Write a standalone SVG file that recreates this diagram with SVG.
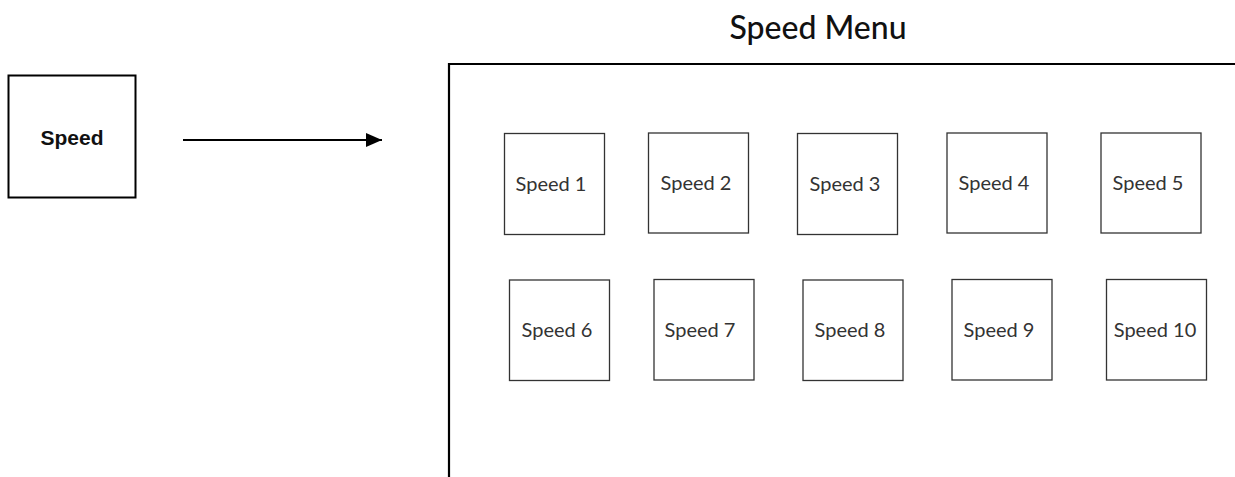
<svg xmlns="http://www.w3.org/2000/svg" width="1235" height="477" viewBox="0 0 1235 477">
<style>
.sb{fill:#fff;stroke:#333;stroke-width:1.3}
.st{font-family:Lato,"Noto Sans",sans-serif;font-size:20px;fill:#333;text-anchor:middle;dominant-baseline:central}
</style>
<defs>
<marker id="ah" markerWidth="16" markerHeight="14" refX="16" refY="7" orient="auto" markerUnits="userSpaceOnUse">
<path d="M0,0 L16,7 L0,14 Z" fill="#000"/>
</marker>
</defs>
<rect width="1235" height="477" fill="#fff"/>
<g id="speed">
<rect x="8.5" y="75.5" width="127" height="122" fill="#fff" stroke="#000" stroke-width="2"/>
<text x="72" y="137" font-family="'Liberation Sans',Arial,sans-serif" font-size="21" font-weight="bold" fill="#111" text-anchor="middle" dominant-baseline="central">Speed</text>
</g>
<g id="connectors">
<line x1="183" y1="140" x2="382" y2="140" stroke="#000" stroke-width="2" marker-end="url(#ah)"/>
</g>
<g id="speed-menu">
<text x="818" y="26" font-family="Lato,'Noto Sans',sans-serif" font-size="32" font-weight="500" fill="#111" text-anchor="middle" dominant-baseline="central">Speed Menu</text>
<path d="M449,477 V64 H1235" fill="none" stroke="#000" stroke-width="2.2"/>
</g>
<g id="speed1"><rect class="sb" x="504.5" y="133.5" width="100" height="101"/><text class="st" x="551" y="183">Speed 1</text></g>
<g id="speed2"><rect class="sb" x="648.5" y="133" width="100" height="100"/><text class="st" x="696" y="182">Speed 2</text></g>
<g id="speed3"><rect class="sb" x="797.5" y="133.5" width="100" height="101"/><text class="st" x="845" y="183">Speed 3</text></g>
<g id="speed4"><rect class="sb" x="947" y="133" width="100" height="100"/><text class="st" x="994" y="182">Speed 4</text></g>
<g id="speed5"><rect class="sb" x="1101" y="133" width="100" height="100"/><text class="st" x="1148" y="182">Speed 5</text></g>
<g id="speed6"><rect class="sb" x="509.5" y="280" width="100" height="100.5"/><text class="st" x="557" y="329">Speed 6</text></g>
<g id="speed7"><rect class="sb" x="654" y="279.5" width="100" height="100.5"/><text class="st" x="700" y="329">Speed 7</text></g>
<g id="speed8"><rect class="sb" x="803" y="280" width="100" height="100.5"/><text class="st" x="850" y="329">Speed 8</text></g>
<g id="speed9"><rect class="sb" x="952" y="279.5" width="100" height="100.5"/><text class="st" x="999" y="329">Speed 9</text></g>
<g id="speed10"><rect class="sb" x="1106.5" y="279.5" width="100" height="100.5"/><text class="st" x="1155" y="329">Speed 10</text></g>
</svg>
